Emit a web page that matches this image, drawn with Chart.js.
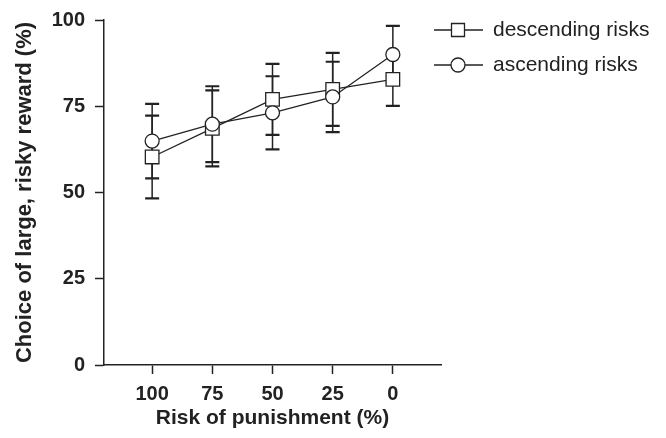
<!DOCTYPE html>
<html>
<head>
<meta charset="utf-8">
<style>
  html, body { margin: 0; padding: 0; background: #fff; }
  #wrap { width: 666px; height: 438px; }
</style>
<script src="https://cdn.jsdelivr.net/npm/chart.js@4"></script>
</head>
<body>
<div id="wrap"><canvas id="chart"></canvas></div>
<script>
const categories = ['100', '75', '50', '25', '0'];
const descending = [60.3, 68.6, 77.0, 79.9, 82.8];
const descendingErr = [12.0, 11.0, 10.3, 10.6, 7.7];
const ascending = [64.9, 69.8, 73.1, 77.7, 90.0];
const ascendingErr = [10.8, 11.0, 10.6, 10.2, 8.3];
const yTicks = [0, 25, 50, 75, 100];

const ink = '#222';
const fontFamily = '"Liberation Sans", Arial, Helvetica, sans-serif';

// vertical error bars with caps, drawn under the markers
const errorBars = {
  id: 'errorBars',
  beforeDatasetsDraw(chart) {
    const ctx = chart.ctx;
    const y = chart.scales.y;
    ctx.save();
    ctx.strokeStyle = ink;
    chart.data.datasets.forEach((ds, di) => {
      const meta = chart.getDatasetMeta(di);
      meta.data.forEach((pt, i) => {
        const v = ds.data[i].y;
        const e = ds.errors[i];
        const top = y.getPixelForValue(v + e);
        const bot = y.getPixelForValue(v - e);
        ctx.lineWidth = 1.5;
        ctx.beginPath();
        ctx.moveTo(pt.x, top);
        ctx.lineTo(pt.x, bot);
        ctx.stroke();
        ctx.lineWidth = 2.2;
        ctx.beginPath();
        ctx.moveTo(pt.x - 7, top);
        ctx.lineTo(pt.x + 7, top);
        ctx.moveTo(pt.x - 7, bot);
        ctx.lineTo(pt.x + 7, bot);
        ctx.stroke();
      });
    });
    ctx.restore();
  }
};

// legend with line-through-marker samples
const lineLegend = {
  id: 'lineLegend',
  afterDraw(chart) {
    const ctx = chart.ctx;
    const items = [
      { label: 'descending risks', shape: 'rect', y: 30 },
      { label: 'ascending risks', shape: 'circle', y: 65 }
    ];
    ctx.save();
    items.forEach(it => {
      ctx.strokeStyle = ink;
      ctx.lineWidth = 1.3;
      ctx.beginPath();
      ctx.moveTo(434, it.y);
      ctx.lineTo(483, it.y);
      ctx.stroke();
      ctx.fillStyle = '#fff';
      ctx.beginPath();
      if (it.shape === 'rect') {
        ctx.rect(458 - 6.5, it.y - 6.5, 13, 13);
      } else {
        ctx.arc(458, it.y, 7, 0, Math.PI * 2);
      }
      ctx.fill();
      ctx.stroke();
      ctx.fillStyle = ink;
      ctx.font = '21px ' + fontFamily;
      ctx.textBaseline = 'middle';
      ctx.textAlign = 'left';
      ctx.fillText(it.label, 493, it.y);
    });
    ctx.restore();
  }
};

const seriesStyle = {
  borderColor: ink,
  borderWidth: 1.3,
  pointBackgroundColor: '#fff',
  pointBorderColor: ink,
  pointBorderWidth: 1.3,
  tension: 0
};

new Chart(document.getElementById('chart'), {
  type: 'line',
  data: {
    datasets: [
      {
        ...seriesStyle,
        label: 'descending risks',
        data: descending.map((v, i) => ({ x: i, y: v })),
        errors: descendingErr,
        pointStyle: 'rect',
        pointRadius: 9.6,
        order: 2
      },
      {
        ...seriesStyle,
        label: 'ascending risks',
        data: ascending.map((v, i) => ({ x: i, y: v })),
        errors: ascendingErr,
        pointStyle: 'circle',
        pointRadius: 7,
        order: 1
      }
    ]
  },
  options: {
    responsive: true,
    maintainAspectRatio: false,
    animation: false,
    layout: { padding: { top: 17, right: 225, bottom: 0, left: 0 } },
    plugins: {
      legend: { display: false },
      tooltip: { enabled: false }
    },
    scales: {
      x: {
        type: 'linear',
        min: -0.8,
        max: 4.8,
        afterBuildTicks(scale) {
          scale.ticks = categories.map((c, i) => ({ value: i }));
        },
        afterFit(scale) { scale.height = 73; },
        ticks: {
          callback: v => categories[v],
          color: ink,
          padding: 8,
          maxRotation: 0,
          font: { family: fontFamily, size: 20, weight: 'bold' }
        },
        grid: {
          drawOnChartArea: false,
          tickLength: 9,
          tickColor: ink,
          tickWidth: 1.5
        },
        border: { color: ink, width: 1.5 },
        title: {
          display: true,
          text: 'Risk of punishment (%)',
          color: ink,
          padding: { top: 0, bottom: 7 },
          font: { family: fontFamily, size: 21, weight: 'bold' }
        }
      },
      y: {
        min: 0,
        max: 100,
        afterBuildTicks(scale) {
          scale.ticks = yTicks.map(v => ({ value: v }));
        },
        afterFit(scale) { scale.width = 104; },
        ticks: {
          color: ink,
          padding: 10,
          font: { family: fontFamily, size: 20, weight: 'bold', lineHeight: 1.0 }
        },
        grid: {
          drawOnChartArea: false,
          tickLength: 9,
          tickColor: ink,
          tickWidth: 1.5
        },
        border: { color: ink, width: 1.5 },
        title: {
          display: true,
          text: 'Choice of large, risky reward (%)',
          color: ink,
          padding: { top: 12, bottom: 0 },
          font: { family: fontFamily, size: 22, weight: 'bold' }
        }
      }
    }
  },
  plugins: [errorBars, lineLegend]
});
</script>
</body>
</html>
